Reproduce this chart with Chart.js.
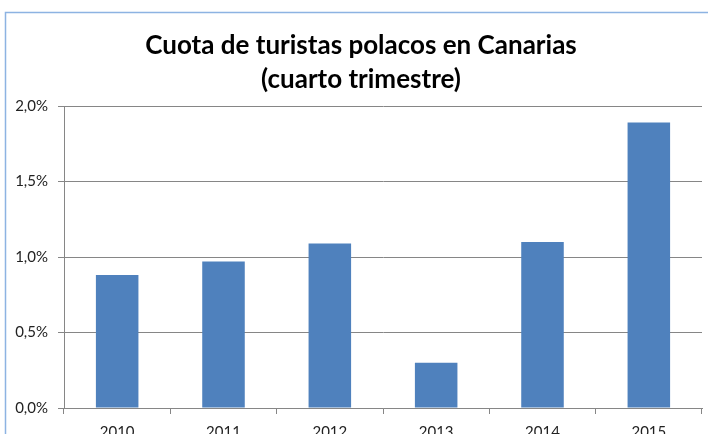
<!DOCTYPE html>
<html>
<head>
<meta charset="utf-8">
<script src="https://cdn.jsdelivr.net/npm/chart.js@4"></script>
<style>
  html, body { margin: 0; padding: 0; background: #fff; overflow: hidden; }
  #wrap { position: absolute; left: 0; top: 0; width: 708px; height: 450px; }
</style>
</head>
<body>
<div id="wrap"><canvas id="cuotaPolacos" width="708" height="450"></canvas></div>
<script>
const anios = ['2010', '2011', '2012', '2013', '2014', '2015'];
const cuotaPct = [0.88, 0.97, 1.09, 0.30, 1.10, 1.89];
const tituloLineas = ['Cuota de turistas polacos en Canarias', '(cuarto trimestre)'];

// marco del gráfico (solo arriba e izquierda se ven) + título centrado en el marco
const marco = {
    id: 'marco',
    beforeDraw(chart) {
        const c = chart.ctx;
        c.save();
        c.strokeStyle = '#8db3e2';
        c.lineWidth = 1.5;
        c.beginPath();
        c.moveTo(5.5, chart.height);
        c.lineTo(5.5, 12.5);
        c.lineTo(chart.width, 12.5);
        c.stroke();

        c.fillStyle = '#000';
        c.font = 'bold 26px Lato';
        c.textAlign = 'center';
        c.textBaseline = 'middle';
        tituloLineas.forEach((t, i) => c.fillText(t, 361, 46 + i * 34));
        c.restore();
    }
};

const ctx = document.getElementById('cuotaPolacos').getContext('2d');
new Chart(ctx, {
    type: 'bar',
    data: {
        labels: anios,
        datasets: [{
            data: cuotaPct,
            backgroundColor: '#4f81bd',
            categoryPercentage: 0.4,
            barPercentage: 1
        }]
    },
    options: {
        responsive: false,
        animation: false,
        layout: { padding: { left: 0, right: 6, top: 106, bottom: 0 } },
        plugins: {
            legend: { display: false },
            tooltip: { enabled: false },
            title: { display: false }
        },
        scales: {
            x: {
                grid: { drawOnChartArea: false, color: '#868686', tickLength: 6 },
                border: { color: '#868686' },
                ticks: { color: '#222', font: { family: 'Lato', size: 15 }, padding: 9 }
            },
            y: {
                min: 0,
                max: 2,
                afterFit(scale) { scale.width = 64; },
                grid: { color: '#868686', tickLength: 6 },
                border: { color: '#868686' },
                ticks: {
                    stepSize: 0.5,
                    color: '#222',
                    font: { family: 'Lato', size: 15 },
                    padding: 10,
                    callback: v => v.toFixed(1).replace('.', ',') + '%'
                }
            }
        }
    },
    plugins: [marco]
});
</script>
</body>
</html>
